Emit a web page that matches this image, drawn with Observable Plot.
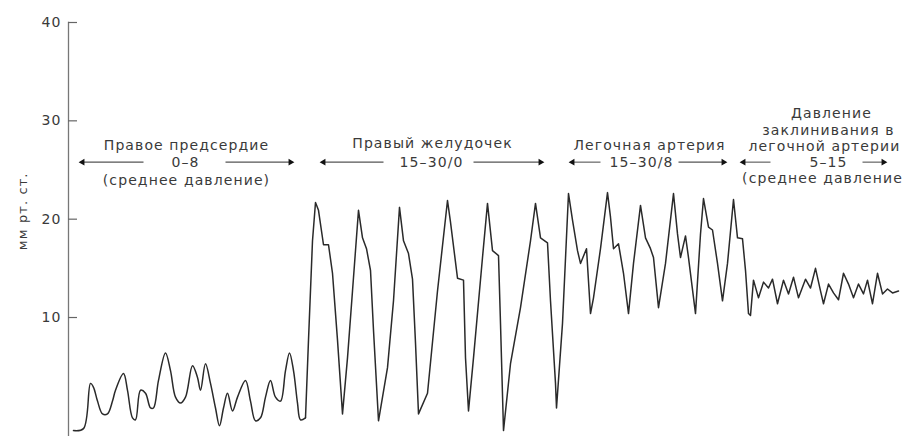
<!DOCTYPE html>
<html>
<head>
<meta charset="utf-8">
<script src="https://cdn.jsdelivr.net/npm/d3@7"></script>
<script src="https://cdn.jsdelivr.net/npm/@observablehq/plot@0.6"></script>
<style>
  html, body { margin: 0; padding: 0; background: #fff; }
  #chart svg { display: block; }
</style>
</head>
<body>
<div id="chart"></div>
<script>
// Time (arbitrary units along the recording) and pressure (mm Hg)
const time = [
  73, 83, 90, 93, 97, 102, 107, 112, 115, 123, 127, 132, 135, 140, 145, 150, 153, 158, 165, 170,
  175, 180, 185, 192, 197, 200, 205, 210, 215, 219, 223, 227, 232, 237, 245, 250, 255, 260, 265, 270,
  275, 280, 285, 289, 293, 297, 300, 305,
  308, 312, 315, 318, 323, 328, 332, 337, 342, 347, 352, 358, 362, 366, 370, 373, 378, 387, 393, 399,
  403, 408, 412, 415, 418, 427, 437, 447, 450, 457, 463, 465, 468, 473, 482, 487, 492, 498, 500, 503,
  510, 520, 530, 535, 540, 547, 550, 555, 556,
  562, 568, 572, 577, 580, 586, 590, 593, 600, 607, 610, 613, 618, 623, 628, 633, 640, 645, 650, 653,
  658, 665, 673, 677, 680, 685, 688, 695, 700, 703, 708, 712, 717, 722, 727, 733, 737, 742, 745, 748,
  750, 753, 758, 763, 768, 772, 777, 783, 788, 793, 798, 805, 810, 815, 820, 823, 828, 833, 838, 843,
  848, 853, 858, 863, 867, 872, 877, 882, 887, 892, 898
];
const pressure = [
  -1.5, -1.3, 3.3, 2.9, 1.5, 0.2, 0.2, 1.5, 2.6, 4.3, 2.6, -0.2, -0.4, 2.6, 2.3, 0.8, 0.8, 3.6, 6.4, 4.6,
  1.9, 1.3, 1.9, 5.1, 3.9, 2.6, 5.3, 3.3, 0.8, -1.0, 0.8, 2.3, 0.5, 1.9, 3.6, 1.5, -0.5, -0.2, 1.9, 3.6,
  1.9, 1.5, 4.6, 6.4, 4.6, 1.3, -0.4, -0.2,
  7.7, 17.8, 21.7, 20.9, 17.4, 17.4, 14.5, 7.7, 0.2, 5.9, 12.7, 20.9, 18.1, 17.0, 14.8, 8.7, -0.5, 4.9, 11.7, 21.2,
  17.8, 16.5, 13.9, 7.4, 0.2, 2.3, 12.7, 21.9, 19.7, 14.0, 13.8, 5.9, 0.5, 5.9, 16.1, 21.6, 16.8, 16.3, 9.4, -1.5,
  5.3, 11.0, 17.8, 21.6, 18.1, 17.6, 11.7, 3.3, 0.8,
  9.4, 22.6, 19.9, 16.8, 15.5, 17.0, 10.4, 12.0, 17.0, 22.7, 20.2, 17.0, 17.5, 14.5, 10.4, 15.5, 21.4, 18.1, 17.0, 16.1,
  11.0, 15.5, 22.6, 18.5, 16.1, 18.3, 16.1, 10.4, 18.5, 22.1, 19.2, 18.9, 15.5, 11.7, 15.5, 22.0, 18.1, 18.0, 14.8, 10.4,
  10.2, 13.8, 12.0, 13.6, 13.0, 13.9, 11.4, 13.8, 12.4, 14.1, 12.0, 13.9, 13.0, 15.0, 12.7, 11.4, 13.4, 12.5, 11.8, 14.5,
  13.4, 12.0, 13.4, 12.4, 13.8, 11.4, 14.5, 12.4, 12.9, 12.5, 12.7
];
// the right-atrial part of the tracing (first samples) is a smooth wave
const atrialSamples = 48;
const yTicks = [10, 20, 30, 40];
const yLabel = "мм рт. ст.";

// Section annotations (centre position in time units, pressure level of each line)
const labelText = [
  "Правое предсердие", "0–8", "(среднее давление)",
  "Правый желудочек", "15–30/0",
  "Легочная артерия", "15–30/8",
  "Давление", "заклинивания в", "легочной артерии", "5–15", "(среднее давление"
];
const labelTime = [186, 185, 186, 432, 431, 649, 641, 831, 828, 824, 828, 822];
const labelLevel = [27.5, 25.8, 23.9, 27.7, 25.8, 27.5, 25.8, 30.7, 29.0, 27.4, 25.8, 24.1];

// Range arrows: tail and head (time units) at the level of the middle line
const arrowTail = [143, 225, 383, 473, 600, 678, 770, 862];
const arrowHead = [82, 290, 323, 540, 572, 723, 743, 883];
const arrowLevel = 25.8;

const trace = time.map((t, i) => ({t, p: pressure[i]}));
const atrial = trace.slice(0, atrialSamples);
const rest = trace.slice(atrialSamples - 1);
const labels = labelText.map((s, i) => ({s, t: labelTime[i], p: labelLevel[i]}));
const arrows = arrowTail.map((a, i) => ({a, b: arrowHead[i], dir: arrowHead[i] > a ? 90 : -90}));

const font = "'DejaVu Sans', 'Liberation Sans', sans-serif";

const chart = Plot.plot({
  width: 909,
  height: 436,
  marginLeft: 68,
  marginRight: 0,
  marginTop: 22,
  marginBottom: 0,
  style: {fontFamily: font, fontSize: "14px", color: "#333", background: "#fff", letterSpacing: "1.1px"},
  x: {domain: [68, 909], axis: null},
  y: {domain: [-2.1, 40]},
  marks: [
    Plot.frame({anchor: "left", stroke: "#777", strokeWidth: 1.3}),
    Plot.axisY(yTicks, {tickSize: -9, text: null, stroke: "#666", strokeWidth: 1.2, label: null}),
    Plot.axisY(yTicks, {tickSize: 0, tickPadding: 7, fill: "#3a3a3a", fontSize: 14, label: null}),
    Plot.text([yLabel], {frameAnchor: "left", textAnchor: "middle", dx: -46, y: [20.8], rotate: -90, fill: "#3a3a3a", fontSize: 13}),
    Plot.line(atrial, {x: "t", y: "p", stroke: "#2a2a2a", strokeWidth: 1.5, curve: "catmull-rom"}),
    Plot.line(rest, {x: "t", y: "p", stroke: "#2a2a2a", strokeWidth: 1.5, curve: "linear"}),
    Plot.text(labels, {x: "t", y: "p", text: "s", fill: "#3a3a3a", fontSize: 14}),
    Plot.link(arrows, {x1: "a", x2: "b", y1: arrowLevel, y2: arrowLevel, stroke: "#555", strokeWidth: 1.1}),
    Plot.dot(arrows, {x: "b", y: arrowLevel, symbol: "triangle2", r: 3.2, rotate: "dir", fill: "#111"})
  ]
});
document.getElementById("chart").appendChild(chart);
</script>
</body>
</html>
